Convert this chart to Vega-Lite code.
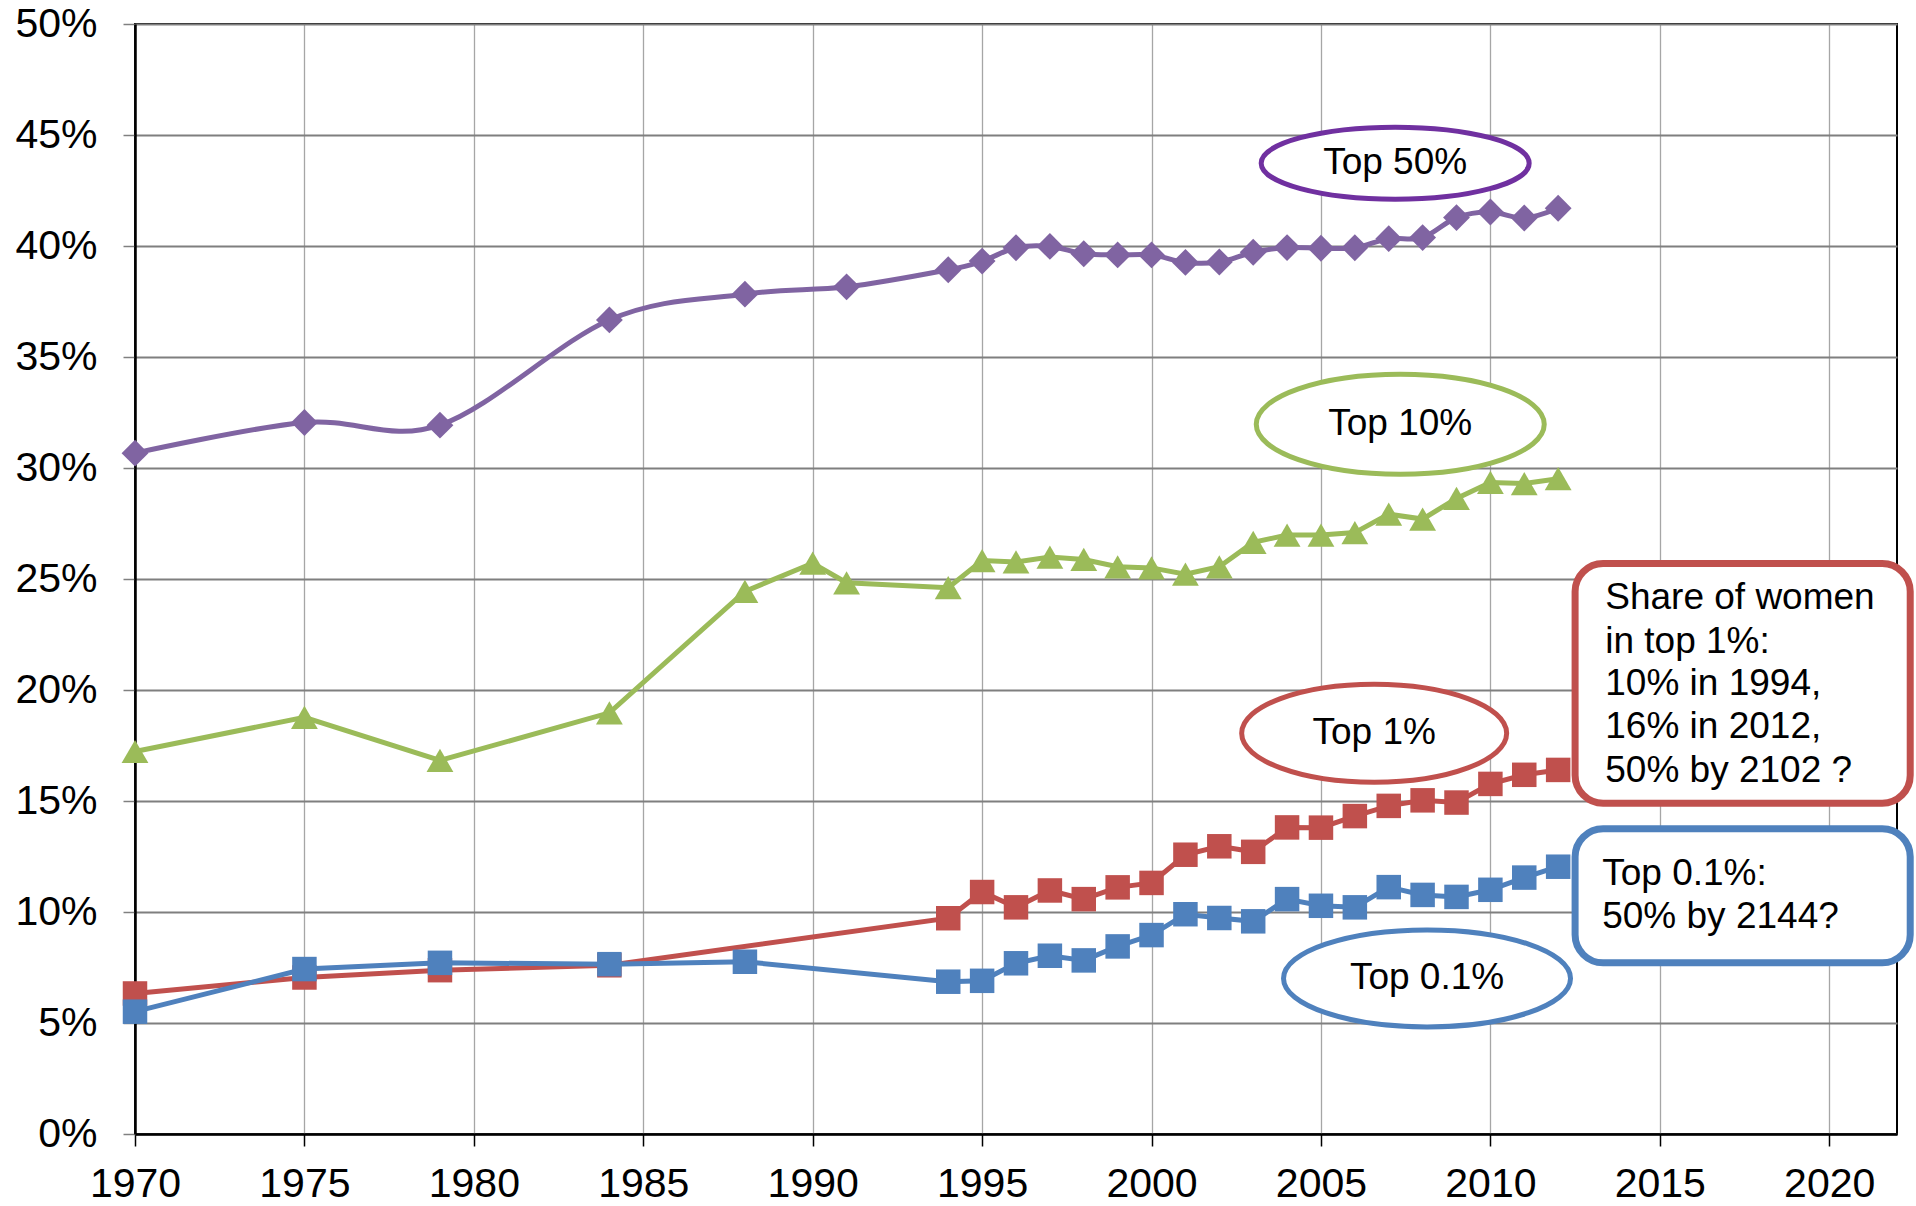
{
  "$schema": "https://vega.github.io/schema/vega-lite/v6.json",
  "width": 1762,
  "height": 1110,
  "autosize": {"type": "none"},
  "padding": {"left": 135, "top": 24, "right": 19, "bottom": 72},
  "background": "white",
  "config": {
    "view": {"stroke": "black", "strokeWidth": 2},
    "font": "Liberation Sans",
    "axis": {"labelFont": "Liberation Sans", "labelColor": "black", "title": null}
  },
  "datasets": {
    "series": [
      {"series": "Top 50%", "year": 1970, "value": 30.67},
      {"series": "Top 50%", "year": 1975, "value": 32.05},
      {"series": "Top 50%", "year": 1979, "value": 31.93},
      {"series": "Top 50%", "year": 1984, "value": 36.67},
      {"series": "Top 50%", "year": 1988, "value": 37.83},
      {"series": "Top 50%", "year": 1991, "value": 38.16},
      {"series": "Top 50%", "year": 1994, "value": 38.93},
      {"series": "Top 50%", "year": 1995, "value": 39.32},
      {"series": "Top 50%", "year": 1996, "value": 39.92},
      {"series": "Top 50%", "year": 1997, "value": 39.98},
      {"series": "Top 50%", "year": 1998, "value": 39.65},
      {"series": "Top 50%", "year": 1999, "value": 39.6},
      {"series": "Top 50%", "year": 2000, "value": 39.6},
      {"series": "Top 50%", "year": 2001, "value": 39.26},
      {"series": "Top 50%", "year": 2002, "value": 39.28},
      {"series": "Top 50%", "year": 2003, "value": 39.72},
      {"series": "Top 50%", "year": 2004, "value": 39.93},
      {"series": "Top 50%", "year": 2005, "value": 39.9},
      {"series": "Top 50%", "year": 2006, "value": 39.92},
      {"series": "Top 50%", "year": 2007, "value": 40.33},
      {"series": "Top 50%", "year": 2008, "value": 40.38},
      {"series": "Top 50%", "year": 2009, "value": 41.28},
      {"series": "Top 50%", "year": 2010, "value": 41.53},
      {"series": "Top 50%", "year": 2011, "value": 41.26},
      {"series": "Top 50%", "year": 2012, "value": 41.7},
      {"series": "Top 10%", "year": 1970, "value": 17.23},
      {"series": "Top 10%", "year": 1975, "value": 18.77},
      {"series": "Top 10%", "year": 1979, "value": 16.83},
      {"series": "Top 10%", "year": 1984, "value": 18.97},
      {"series": "Top 10%", "year": 1988, "value": 24.44},
      {"series": "Top 10%", "year": 1990, "value": 25.71},
      {"series": "Top 10%", "year": 1991, "value": 24.83},
      {"series": "Top 10%", "year": 1994, "value": 24.61},
      {"series": "Top 10%", "year": 1995, "value": 25.83},
      {"series": "Top 10%", "year": 1996, "value": 25.77},
      {"series": "Top 10%", "year": 1997, "value": 25.99},
      {"series": "Top 10%", "year": 1998, "value": 25.88},
      {"series": "Top 10%", "year": 1999, "value": 25.55},
      {"series": "Top 10%", "year": 2000, "value": 25.5},
      {"series": "Top 10%", "year": 2001, "value": 25.22},
      {"series": "Top 10%", "year": 2002, "value": 25.55},
      {"series": "Top 10%", "year": 2003, "value": 26.65},
      {"series": "Top 10%", "year": 2004, "value": 26.98},
      {"series": "Top 10%", "year": 2005, "value": 26.98},
      {"series": "Top 10%", "year": 2006, "value": 27.09},
      {"series": "Top 10%", "year": 2007, "value": 27.92},
      {"series": "Top 10%", "year": 2008, "value": 27.7},
      {"series": "Top 10%", "year": 2009, "value": 28.63},
      {"series": "Top 10%", "year": 2010, "value": 29.35},
      {"series": "Top 10%", "year": 2011, "value": 29.3},
      {"series": "Top 10%", "year": 2012, "value": 29.52},
      {"series": "Top 1%", "year": 1970, "value": 6.33},
      {"series": "Top 1%", "year": 1975, "value": 7.05},
      {"series": "Top 1%", "year": 1979, "value": 7.38},
      {"series": "Top 1%", "year": 1984, "value": 7.6},
      {"series": "Top 1%", "year": 1994, "value": 9.72},
      {"series": "Top 1%", "year": 1995, "value": 10.9},
      {"series": "Top 1%", "year": 1996, "value": 10.21},
      {"series": "Top 1%", "year": 1997, "value": 10.97},
      {"series": "Top 1%", "year": 1998, "value": 10.58},
      {"series": "Top 1%", "year": 1999, "value": 11.11},
      {"series": "Top 1%", "year": 2000, "value": 11.31},
      {"series": "Top 1%", "year": 2001, "value": 12.58},
      {"series": "Top 1%", "year": 2002, "value": 12.96},
      {"series": "Top 1%", "year": 2003, "value": 12.71},
      {"series": "Top 1%", "year": 2004, "value": 13.81},
      {"series": "Top 1%", "year": 2005, "value": 13.8},
      {"series": "Top 1%", "year": 2006, "value": 14.32},
      {"series": "Top 1%", "year": 2007, "value": 14.78},
      {"series": "Top 1%", "year": 2008, "value": 15.03},
      {"series": "Top 1%", "year": 2009, "value": 14.93},
      {"series": "Top 1%", "year": 2010, "value": 15.77},
      {"series": "Top 1%", "year": 2011, "value": 16.18},
      {"series": "Top 1%", "year": 2012, "value": 16.4},
      {"series": "Top 0.1%", "year": 1970, "value": 5.51},
      {"series": "Top 0.1%", "year": 1975, "value": 7.43},
      {"series": "Top 0.1%", "year": 1979, "value": 7.71},
      {"series": "Top 0.1%", "year": 1984, "value": 7.65},
      {"series": "Top 0.1%", "year": 1988, "value": 7.76},
      {"series": "Top 0.1%", "year": 1994, "value": 6.86},
      {"series": "Top 0.1%", "year": 1995, "value": 6.9},
      {"series": "Top 0.1%", "year": 1996, "value": 7.69},
      {"series": "Top 0.1%", "year": 1997, "value": 8.03},
      {"series": "Top 0.1%", "year": 1998, "value": 7.82},
      {"series": "Top 0.1%", "year": 1999, "value": 8.45},
      {"series": "Top 0.1%", "year": 2000, "value": 8.96},
      {"series": "Top 0.1%", "year": 2001, "value": 9.9},
      {"series": "Top 0.1%", "year": 2002, "value": 9.73},
      {"series": "Top 0.1%", "year": 2003, "value": 9.58},
      {"series": "Top 0.1%", "year": 2004, "value": 10.58},
      {"series": "Top 0.1%", "year": 2005, "value": 10.28},
      {"series": "Top 0.1%", "year": 2006, "value": 10.21},
      {"series": "Top 0.1%", "year": 2007, "value": 11.12},
      {"series": "Top 0.1%", "year": 2008, "value": 10.77},
      {"series": "Top 0.1%", "year": 2009, "value": 10.68},
      {"series": "Top 0.1%", "year": 2010, "value": 11.0},
      {"series": "Top 0.1%", "year": 2011, "value": 11.55},
      {"series": "Top 0.1%", "year": 2012, "value": 12.04}
    ],
    "notes": [
      {"label": "Top 50%", "year": 2007.19, "value": 43.73},
      {"label": "Top 10%", "year": 2007.34, "value": 31.97},
      {"label": "Top 1%", "year": 2006.57, "value": 18.05},
      {"label": "Top 0.1%", "year": 2008.13, "value": 7.01}
    ],
    "boxes": [
      {"box": "women", "x1": 2012.5, "x2": 2022.39, "y1": 25.7, "y2": 14.9},
      {"box": "top01", "x1": 2012.5, "x2": 2022.39, "y1": 13.75, "y2": 7.71}
    ],
    "callout": [
      {"text": "Share of women", "year": 2013.39, "value": 23.63},
      {"text": "in top 1%:", "year": 2013.39, "value": 21.68},
      {"text": "10% in 1994,", "year": 2013.39, "value": 19.77},
      {"text": "16% in 2012,", "year": 2013.39, "value": 17.82},
      {"text": "50% by 2102 ?", "year": 2013.39, "value": 15.86},
      {"text": "Top 0.1%:", "year": 2013.3, "value": 11.2},
      {"text": "50% by 2144?", "year": 2013.3, "value": 9.27}
    ]
  },
  "encoding": {
    "x": {
      "field": "year", "type": "quantitative",
      "scale": {"domain": [1970, 2022], "nice": false, "zero": false},
      "axis": {
        "values": [1970, 1975, 1980, 1985, 1990, 1995, 2000, 2005, 2010, 2015, 2020],
        "format": "d", "labelFontSize": 41, "labelPadding": 18,
        "tickSize": 12, "tickColor": "black", "tickWidth": 1.5,
        "domainColor": "black", "domainWidth": 2.5,
        "grid": true, "gridColor": "#a6a6a6", "gridWidth": 1.3,
        "labelFlush": false, "labelOverlap": false
      }
    },
    "y": {
      "field": "value", "type": "quantitative",
      "scale": {"domain": [0, 50], "nice": false, "zero": true},
      "axis": {
        "values": [0, 5, 10, 15, 20, 25, 30, 35, 40, 45, 50],
        "labelExpr": "datum.value + '%'", "labelFontSize": 41, "labelPadding": 26,
        "tickSize": 12, "tickColor": "#808080", "tickWidth": 1.5,
        "domainColor": "black", "domainWidth": 2.5,
        "grid": true, "gridColor": "#7f7f7f", "gridWidth": 2,
        "labelFlush": false, "labelOverlap": false
      }
    }
  },
  "layer": [
    {
      "data": {"name": "boxes"},
      "mark": {"type": "rect", "fill": "white", "strokeWidth": 7, "cornerRadius": 28},
      "encoding": {
        "x": {"field": "x1", "type": "quantitative"},
        "x2": {"field": "x2"},
        "y": {"field": "y1", "type": "quantitative"},
        "y2": {"field": "y2"},
        "stroke": {"field": "box", "type": "nominal", "scale": {"domain": ["women", "top01"], "range": ["#C0504D", "#4F81BD"]}, "legend": null}
      }
    },
    {
      "data": {"name": "notes"},
      "transform": [{"filter": "datum.label == 'Top 50%'"}],
      "mark": {"type": "point", "filled": false, "fill": "white", "fillOpacity": 1, "opacity": 1, "stroke": "#7030A0", "strokeWidth": 5, "size": 71824,
        "shape": "M-1,0C-1,-0.1486,-0.5523,-0.269,0,-0.269C0.5523,-0.269,1,-0.1486,1,0C1,0.1486,0.5523,0.269,0,0.269C-0.5523,0.269,-1,0.1486,-1,0Z"}
    },
    {
      "data": {"name": "notes"},
      "transform": [{"filter": "datum.label == 'Top 10%'"}],
      "mark": {"type": "point", "filled": false, "fill": "white", "fillOpacity": 1, "opacity": 1, "stroke": "#9BBB59", "strokeWidth": 5, "size": 82944,
        "shape": "M-1,0C-1,-0.1916,-0.5523,-0.347,0,-0.347C0.5523,-0.347,1,-0.1916,1,0C1,0.1916,0.5523,0.347,0,0.347C-0.5523,0.347,-1,0.1916,-1,0Z"}
    },
    {
      "data": {"name": "notes"},
      "transform": [{"filter": "datum.label == 'Top 1%'"}],
      "mark": {"type": "point", "filled": false, "fill": "white", "fillOpacity": 1, "opacity": 1, "stroke": "#C0504D", "strokeWidth": 5, "size": 70225,
        "shape": "M-1,0C-1,-0.2044,-0.5523,-0.37,0,-0.37C0.5523,-0.37,1,-0.2044,1,0C1,0.2044,0.5523,0.37,0,0.37C-0.5523,0.37,-1,0.2044,-1,0Z"}
    },
    {
      "data": {"name": "notes"},
      "transform": [{"filter": "datum.label == 'Top 0.1%'"}],
      "mark": {"type": "point", "filled": false, "fill": "white", "fillOpacity": 1, "opacity": 1, "stroke": "#4F81BD", "strokeWidth": 5, "size": 82369,
        "shape": "M-1,0C-1,-0.1867,-0.5523,-0.338,0,-0.338C0.5523,-0.338,1,-0.1867,1,0C1,0.1867,0.5523,0.338,0,0.338C-0.5523,0.338,-1,0.1867,-1,0Z"}
    },
    {
      "data": {"name": "notes"},
      "mark": {"type": "text", "align": "center", "baseline": "middle", "fontSize": 37, "font": "Liberation Sans", "color": "black"},
      "encoding": {"text": {"field": "label"}}
    },
    {
      "data": {"name": "callout"},
      "mark": {"type": "text", "align": "left", "baseline": "alphabetic", "fontSize": 37, "font": "Liberation Sans", "color": "black"},
      "encoding": {"text": {"field": "text"}}
    },
    {
      "data": {"name": "series"},
      "transform": [{"filter": "datum.series == 'Top 50%'"}],
      "mark": {"type": "line", "color": "#8064A2", "strokeWidth": 5, "interpolate": "cardinal", "tension": 0}
    },
    {
      "data": {"name": "series"},
      "transform": [{"filter": "datum.series == 'Top 50%'"}],
      "mark": {"type": "point", "shape": "diamond", "filled": true, "color": "#8064A2", "size": 720, "opacity": 1, "strokeWidth": 0}
    },
    {
      "data": {"name": "series"},
      "transform": [{"filter": "datum.series == 'Top 10%'"}],
      "mark": {"type": "line", "color": "#9BBB59", "strokeWidth": 5}
    },
    {
      "data": {"name": "series"},
      "transform": [{"filter": "datum.series == 'Top 10%'"}],
      "mark": {"type": "point", "shape": "triangle-up", "filled": true, "color": "#9BBB59", "size": 720, "opacity": 1, "strokeWidth": 0}
    },
    {
      "data": {"name": "series"},
      "transform": [{"filter": "datum.series == 'Top 1%'"}],
      "mark": {"type": "line", "color": "#C0504D", "strokeWidth": 5}
    },
    {
      "data": {"name": "series"},
      "transform": [{"filter": "datum.series == 'Top 1%'"}],
      "mark": {"type": "point", "shape": "square", "filled": true, "color": "#C0504D", "size": 600, "opacity": 1, "strokeWidth": 0}
    },
    {
      "data": {"name": "series"},
      "transform": [{"filter": "datum.series == 'Top 0.1%'"}],
      "mark": {"type": "line", "color": "#4F81BD", "strokeWidth": 5}
    },
    {
      "data": {"name": "series"},
      "transform": [{"filter": "datum.series == 'Top 0.1%'"}],
      "mark": {"type": "point", "shape": "square", "filled": true, "color": "#4F81BD", "size": 600, "opacity": 1, "strokeWidth": 0}
    }
  ]
}
